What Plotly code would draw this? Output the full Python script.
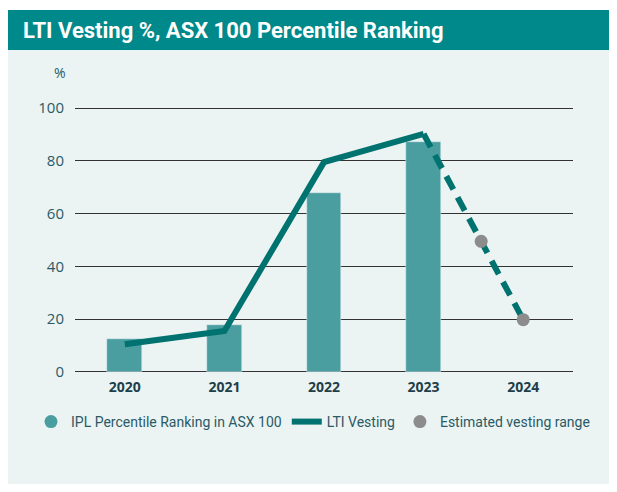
import plotly.graph_objects as go

years = ["2020", "2021", "2022", "2023", "2024"]
ranking = [12.5, 17.8, 67.8, 87.2]          # IPL Percentile Ranking in ASX 100 (bars)
vesting = [10.5, 15.5, 79.5, 90.2]          # LTI Vesting (solid line)
vesting_proj = [90.2, 19.8]                 # dashed projection 2023 -> 2024
est_range = [49.5, 19.8]                    # Estimated vesting range (dots)
yticks = [0, 20, 40, 60, 80, 100]

xi = list(range(len(years)))
def x_on_proj(v):
    t = (vesting_proj[0] - v) / (vesting_proj[0] - vesting_proj[1])
    return 3 + t

TEAL_DARK = "#00726F"
BAR = "#4B9EA0"
GREY = "#8C8C8C"
TXT = "#2A5A66"

fig = go.Figure()
fig.add_trace(go.Bar(x=xi[:4], y=ranking, width=0.35, marker_color=BAR,
                     name="IPL Percentile Ranking in ASX 100", showlegend=False))
fig.add_trace(go.Scatter(x=[None], y=[None], mode="markers",
                         marker=dict(color=BAR, size=13), name="IPL Percentile Ranking in ASX 100"))
fig.add_trace(go.Scatter(x=xi[:4], y=vesting, mode="lines",
                         line=dict(color=TEAL_DARK, width=6), name="LTI Vesting"))
fig.add_trace(go.Scatter(x=[3, 4], y=vesting_proj, mode="lines",
                         line=dict(color=TEAL_DARK, width=6, dash="15px,9px"), showlegend=False))
fig.add_trace(go.Scatter(x=[x_on_proj(v) for v in est_range], y=est_range, mode="markers",
                         marker=dict(color=GREY, size=13), name="Estimated vesting range"))

# page has an 8px body margin on every side: keep the figure inside to avoid scrollbars
OFF = 8
W, H = 617 - 2 * OFF, 492 - 2 * OFF
l, t = 75 - OFF, 107 - OFF
r = (617 - OFF) - 573
b = (492 - OFF) - 373
pw, ph = W - l - r, H - t - b
def px(X): return (X - OFF - l) / pw
def py(Y): return (H - b - (Y - OFF)) / ph

fig.add_shape(type="rect", xref="paper", yref="paper", x0=px(7), x1=px(640), y0=py(520), y1=py(50),
              fillcolor="#EBF4F3", line_width=0, layer="below")
fig.add_shape(type="rect", xref="paper", yref="paper", x0=px(7), x1=px(640), y0=py(50), y1=py(10),
              fillcolor="#00898A", line_width=0, layer="below")
fig.add_annotation(xref="paper", yref="paper", x=px(21), y=py(31), xanchor="left", yanchor="middle",
                   text="<b>LTI Vesting %, ASX 100 Percentile Ranking</b>", showarrow=False,
                   font=dict(family="Roboto", size=22, color="white"))
fig.add_annotation(xref="paper", yref="paper", x=px(60), y=py(72), xanchor="center", yanchor="middle",
                   text="%", showarrow=False, font=dict(family="Open Sans", size=14, color=TXT))

fig.update_layout(
    width=W, height=H, margin=dict(l=l, r=r, t=t, b=b),
    paper_bgcolor="white", plot_bgcolor="rgba(0,0,0,0)",
    showlegend=True,
    legend=dict(orientation="h", x=px(31), y=py(422), xanchor="left", yanchor="middle",
                font=dict(family="Roboto", size=14, color=TXT), bgcolor="rgba(0,0,0,0)",
                tracegroupgap=0),
    bargap=0,
)
fig.update_xaxes(range=[-0.5, 4.5], tickvals=xi, ticktext=[f"<b>{y}</b>" for y in years],
                 showgrid=False, zeroline=False, showline=False, ticks="", ticklabelstandoff=4,
                 tickfont=dict(family="Open Sans", size=14, color="#1E3F4A"))
fig.update_yaxes(range=[-0.4, 100.4], tickvals=yticks, showgrid=True, gridcolor="#333333", gridwidth=1.3,
                 zeroline=False, showline=False, ticks="", ticklabelstandoff=10,
                 tickfont=dict(family="Open Sans", size=15, color=TXT))

fig.write_html("out.html")
